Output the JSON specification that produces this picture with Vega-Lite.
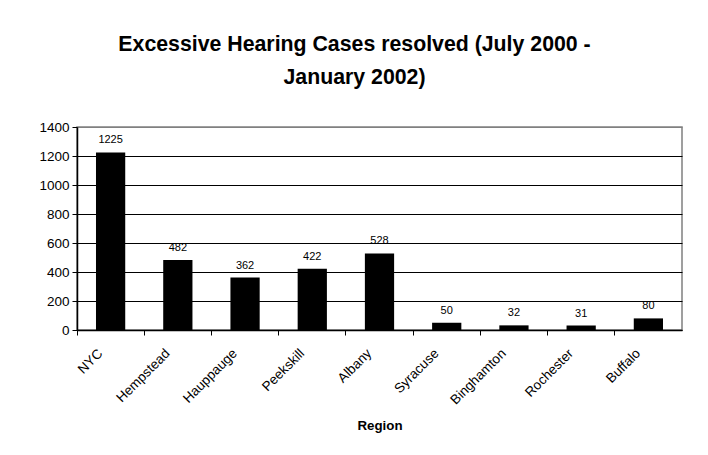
{
  "$schema": "https://vega.github.io/schema/vega-lite/v6.json",
  "autosize": {"type": "none"},
  "width": 605,
  "height": 203,
  "padding": {"left": 77, "top": 127, "right": 26, "bottom": 125},
  "background": "white",
  "title": {
    "text": ["Excessive Hearing Cases resolved (July 2000 -", "January 2002)"],
    "font": "Liberation Sans",
    "fontSize": 21.3,
    "fontWeight": "bold",
    "color": "black",
    "anchor": "middle",
    "frame": "group",
    "dx": -25,
    "offset": 32,
    "lineHeight": 33
  },
  "config": {
    "view": {"stroke": "#808080", "strokeWidth": 1.5},
    "font": "Liberation Sans"
  },
  "data": {
    "values": [
      {"Region": "NYC", "Cases": 1225},
      {"Region": "Hempstead", "Cases": 482},
      {"Region": "Hauppauge", "Cases": 362},
      {"Region": "Peekskill", "Cases": 422},
      {"Region": "Albany", "Cases": 528},
      {"Region": "Syracuse", "Cases": 50},
      {"Region": "Binghamton", "Cases": 32},
      {"Region": "Rochester", "Cases": 31},
      {"Region": "Buffalo", "Cases": 80}
    ]
  },
  "encoding": {
    "y": {
      "field": "Cases", "type": "quantitative",
      "scale": {"domain": [0, 1400], "nice": false},
      "axis": {
        "title": null,
        "values": [0, 200, 400, 600, 800, 1000, 1200, 1400],
        "format": "d",
        "labelOverlap": false,
        "labelFont": "Liberation Sans",
        "labelFontSize": 13.5,
        "labelColor": "black",
        "labelPadding": 3,
        "domainColor": "black",
        "domainWidth": 1.5,
        "tickColor": "black",
        "tickSize": 5,
        "grid": true,
        "gridColor": {"condition": {"test": "datum.value === 1400", "value": "#808080"}, "value": "black"},
        "gridOpacity": 1
      }
    }
  },
  "resolve": {"axis": {"x": "independent"}},
  "layer": [
    {
      "mark": {"type": "bar", "color": "black", "width": {"band": 0.435}},
      "encoding": {
        "x": {
          "field": "Region", "type": "nominal", "sort": null,
          "scale": {"paddingInner": 0, "paddingOuter": 0},
          "axis": {
            "orient": "bottom",
            "title": "Region",
            "titleFont": "Liberation Sans",
            "titleFontSize": 13.3,
            "titleFontWeight": "bold",
            "titleColor": "black",
            "titlePadding": 12,
            "labelAngle": -45,
            "labelFont": "Liberation Sans",
            "labelFontSize": 13.5,
            "labelColor": "black",
            "labelPadding": 16,
            "labelOffset": -15,
            "labelOverlap": false,
            "ticks": false,
            "domain": false
          }
        }
      }
    },
    {
      "mark": {"type": "text", "font": "Liberation Sans", "fontSize": 11, "color": "black", "baseline": "bottom", "dy": -7},
      "encoding": {
        "x": {
          "field": "Region", "type": "nominal", "sort": null,
          "axis": {
            "orient": "bottom",
            "title": null,
            "labels": false,
            "bandPosition": 0,
            "domainColor": "black",
            "domainWidth": 1.5,
            "tickColor": "black",
            "tickSize": 5,
            "grid": false
          }
        },
        "text": {"field": "Cases", "type": "quantitative"}
      }
    }
  ]
}
